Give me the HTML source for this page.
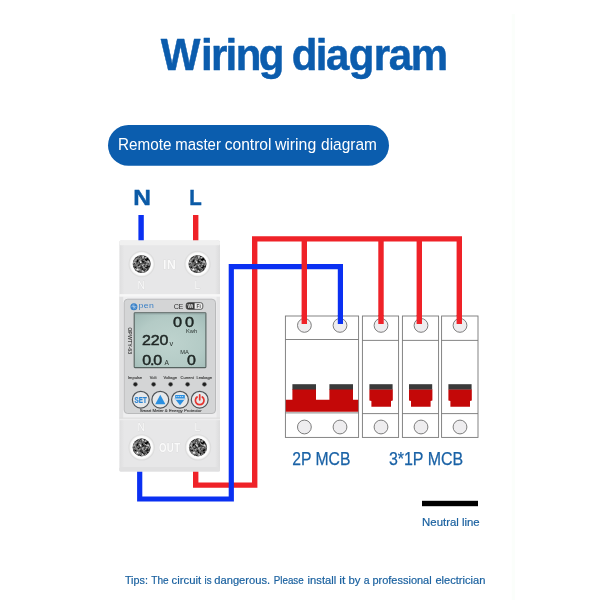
<!DOCTYPE html>
<html lang="en">
<head>
<meta charset="utf-8">
<title>Wiring diagram</title>
<style>
  html,body{margin:0;padding:0;background:#fff;}
  body{width:600px;height:600px;overflow:hidden;position:relative;font-family:"Liberation Sans",sans-serif;}
  svg{will-change:transform;position:absolute;left:0;top:0;display:block;}
  text{font-family:"Liberation Sans",sans-serif;}
  .emb{fill:#fafafa;font-weight:700;stroke:#d6d6d7;stroke-width:0.7px;paint-order:stroke;}
  .tiny{fill:#3a3a3a;}
  .lcd{fill:#1f2725;font-weight:400;stroke:#1f2725;stroke-width:0.5px;}
</style>
</head>
<body>
<svg width="600" height="600" viewBox="0 0 600 600">
  <defs>
    <linearGradient id="bodyG" x1="0" x2="1" y1="0" y2="0">
      <stop offset="0" stop-color="#dededf"/>
      <stop offset="0.05" stop-color="#e7e7e8"/>
      <stop offset="0.95" stop-color="#e7e7e8"/>
      <stop offset="1" stop-color="#dcdcdd"/>
    </linearGradient>
    <radialGradient id="lcdG" cx="0.5" cy="0.55" r="0.75">
      <stop offset="0" stop-color="#bed3ce"/>
      <stop offset="0.6" stop-color="#b4cbc6"/>
      <stop offset="1" stop-color="#9fb9b5"/>
    </radialGradient>
    <radialGradient id="ringG" cx="0.5" cy="0.5" r="0.5">
      <stop offset="0.7" stop-color="#ffffff"/>
      <stop offset="0.88" stop-color="#fbfbfb"/>
      <stop offset="1" stop-color="#e6e6e6"/>
    </radialGradient>
    <filter id="noise" x="-10%" y="-10%" width="120%" height="120%" color-interpolation-filters="sRGB">
      <feTurbulence type="fractalNoise" baseFrequency="0.400 0.400" numOctaves="2" seed="11" result="t"/>
      <feColorMatrix in="t" type="matrix" values="0 1.7 0 0 -0.46  0 1.7 0 0 -0.46  0 1.7 0 0 -0.46  0 0 0 0 1" result="g"/>
      <feGaussianBlur in="g" stdDeviation="0.600" result="gb"/>
      <feComposite in="gb" in2="SourceGraphic" operator="in"/>
    </filter>
  </defs>

  <!-- faint guide line -->
  <rect x="511.800" y="14" width="3" height="586" fill="#fbfefb"/>

  <!-- title -->
  <text id="title" transform="translate(160.698 69.600) scale(0.955 1)" dx="0.00 0.99 -1.58 -2.11 -1.37 -2.74 0.00 -4.55 -1.97 -1.44 -0.48 -0.75 -1.59 -1.27" font-size="44" font-weight="700" fill="#0b5cad" stroke="#0b5cad" stroke-width="0.5" stroke-linejoin="round">Wiring diagram</text>

  <!-- pill -->
  <rect x="108" y="125" width="281" height="40.800" rx="20.400" fill="#0b5dae"/>
  <text id="pilltxt" y="150.100" font-size="16.300" fill="#ffffff"><tspan x="118.0" textLength="53.4" lengthAdjust="spacingAndGlyphs">Remote</tspan> <tspan x="175.2" textLength="45.7" lengthAdjust="spacingAndGlyphs">master</tspan> <tspan x="224.700" textLength="46.800" lengthAdjust="spacingAndGlyphs">control</tspan> <tspan x="274.900" textLength="41.300" lengthAdjust="spacingAndGlyphs">wiring</tspan> <tspan x="321.1" textLength="55.8" lengthAdjust="spacingAndGlyphs">diagram</tspan></text>

  <!-- N / L labels -->
  <text id="lblN" transform="translate(142.050 204.500) scale(1.100 1)" text-anchor="middle" font-size="22.200" font-weight="700" fill="#0b5aa6" stroke="#0b5aa6" stroke-width="0.450">N</text>
  <text id="lblL" transform="translate(195.500 204.500) scale(0.920 1)" text-anchor="middle" font-size="22.200" font-weight="700" fill="#0b5aa6" stroke="#0b5aa6" stroke-width="0.450">L</text>

  <!-- wires -->
  <g fill="none" stroke-linejoin="miter">
    <path d="M195.700 215 V242" stroke="#ef2228" stroke-width="5.400"/>
    <path d="M195.700 470 V485.100 H254.700 V238.900 H459.300 V324" stroke="#ef2228" stroke-width="5.400"/>
    <path d="M141.100 215 V242" stroke="#0a30f2" stroke-width="5.400"/>
    <path d="M139.700 470 V499 H231.300 V266.700 H340.400 V324" stroke="#0a30f2" stroke-width="5.200"/>
    <path d="M304.300 238.900 V324 M381 238.900 V324 M419.300 238.900 V324" stroke="#ef2228" stroke-width="5.400"/>
  </g>

  <!-- device -->
  <g id="device">
    <rect x="119.400" y="240.600" width="100.600" height="231" rx="1.500" fill="url(#bodyG)"/>
    <rect x="119.400" y="240.600" width="100.600" height="4.600" rx="1.500" fill="#f0f0f0"/>
    <rect x="119.400" y="467" width="100.600" height="4.600" rx="1.500" fill="#e0e0e1"/>
    <!-- mid section -->
    <rect x="119.400" y="294.400" width="100.600" height="123.800" fill="#efeff0"/>
    <rect x="119.400" y="296.500" width="3.800" height="121.700" fill="#e1e1e2"/>
    <rect x="216.600" y="296.500" width="3.400" height="121.700" fill="#e6e6e7"/>
    <rect x="119.400" y="294.200" width="100.600" height="2.300" fill="#f7f7f7"/>
    <rect x="119.400" y="417.600" width="100.600" height="1.200" fill="#dcdcdd"/>
    <rect x="119.400" y="418.800" width="100.600" height="1.400" fill="#ededee"/>
    <!-- terminals top -->
    <g transform="translate(141.700 264)"><circle r="13.200" fill="#dcdcdc"/> <circle r="12.300" fill="url(#ringG)"/> <circle r="9.100" fill="#8b8b8b"/> <circle r="8.800" fill="#5a5a5a"/> <circle r="8.600" fill="#5a5a5a" filter="url(#noise)"/></g>
    <g transform="translate(197.500 264)"><circle r="13.200" fill="#dcdcdc"/> <circle r="12.300" fill="url(#ringG)"/> <circle r="9.100" fill="#8b8b8b"/> <circle r="8.800" fill="#5a5a5a"/> <circle r="8.600" fill="#5a5a5a" filter="url(#noise)"/></g>
    <text class="emb" transform="translate(169.600 268.900) scale(0.900 1)" text-anchor="middle" font-size="13.500" style="letter-spacing:0.6px">IN</text>
    <text class="emb" x="141.300" y="288.600" text-anchor="middle" font-size="10.400" style="font-weight:400">N</text>
    <text class="emb" x="197.300" y="288.600" text-anchor="middle" font-size="10.400" style="font-weight:400">L</text>
    <!-- terminals bottom -->
    <g transform="translate(141.600 447.400)"><circle r="13.200" fill="#dcdcdc"/> <circle r="12.300" fill="url(#ringG)"/> <circle r="9.100" fill="#8b8b8b"/> <circle r="8.800" fill="#5a5a5a"/> <circle r="8.600" fill="#5a5a5a" filter="url(#noise)"/></g>
    <g transform="translate(198 447.400)"><circle r="13.200" fill="#dcdcdc"/> <circle r="12.300" fill="url(#ringG)"/> <circle r="9.100" fill="#8b8b8b"/> <circle r="8.800" fill="#5a5a5a"/> <circle r="8.600" fill="#5a5a5a" filter="url(#noise)"/></g>
    <text class="emb" transform="translate(169.700 452.300) scale(0.720 1)" text-anchor="middle" font-size="13.500" style="letter-spacing:0.4px">OUT</text>
    <text class="emb" x="141.300" y="430.500" text-anchor="middle" font-size="10.400" style="font-weight:400">N</text>
    <text class="emb" x="197.300" y="430.500" text-anchor="middle" font-size="10.400" style="font-weight:400">L</text>

    <!-- front label panel -->
    <rect x="124.200" y="299.200" width="91.300" height="114.300" rx="3.500" fill="#d4d5d6" stroke="#b4b5b7" stroke-width="0.900"/>
    <!-- logo -->
    <circle cx="133.900" cy="306.700" r="3.500" fill="#3a82c8"/>
    <path d="M131.400 306.700 h5 M133.900 304.200 v5 M132.200 305 l3.400 3.400" stroke="#b9d3ec" stroke-width="0.700"/>
    <text id="pen" transform="translate(138.400 308.100) scale(1.120 1)" font-size="7.800" fill="#3b80c6" style="letter-spacing:0.35px">pen</text>
    <text id="ce" transform="translate(173.800 309) scale(0.900 1)" font-size="8" fill="#333" style="letter-spacing:-0.6px">CE</text>
    <rect x="186.200" y="302.700" width="16.600" height="6.600" rx="2.200" fill="#f1f1f1" stroke="#3a3a3a" stroke-width="0.800"/>
    <path d="M188.400 302.700 H194.600 V309.300 H188.400 A2.200 2.200 0 0 1 186.200 307.100 V304.900 A2.200 2.200 0 0 1 188.400 302.700 Z" fill="#3a3a3a"/>
    <text x="190.500" y="307.800" text-anchor="middle" font-size="4.800" font-weight="700" fill="#e8e8e8">Wi</text>
    <text x="198.600" y="307.800" text-anchor="middle" font-size="4.800" font-weight="700" fill="#444">Fi</text>
    <!-- LCD -->
    <rect x="134.200" y="312.700" width="71.700" height="54.900" rx="0.800" fill="url(#lcdG)" stroke="#55625f" stroke-width="1.100"/>
    <rect x="134.700" y="313.200" width="70.700" height="1.200" fill="#8fa39f" opacity="0.700"/>
    <g class="lcd" font-size="15.400">
      <text transform="translate(173.100 327.200) scale(1.060 1)" style="letter-spacing:2.6px">00</text>
      <text transform="translate(142 345.400) scale(1.040 1)" style="letter-spacing:-0.1px">220</text>
      <text transform="translate(142.200 365) scale(1.040 1)" style="letter-spacing:-1.1px">0.0</text>
      <text transform="translate(186.900 365) scale(1.040 1)">0</text>
    </g>
    <g fill="#2a3330">
      <text x="186" y="332.800" font-size="5.400" textLength="11.200" lengthAdjust="spacingAndGlyphs">Kwh</text>
      <text x="169.500" y="345.500" font-size="7.400">v</text>
      <text x="164.500" y="365" font-size="6.600">A</text>
      <text x="180.200" y="353.800" font-size="5.200" textLength="8.600" lengthAdjust="spacingAndGlyphs">MA</text>
    </g>
    <text transform="translate(127.500 327.200) rotate(90)" font-size="4.800" font-weight="700" fill="#4a4a4a" textLength="27" lengthAdjust="spacingAndGlyphs">OPWTY-63</text>
    <!-- indicator labels -->
    <g class="tiny" font-size="4" text-anchor="middle" stroke="#3a3a3a" stroke-width="0.120">
      <text x="135" y="379">Impulse</text>
      <text x="153.200" y="379">Volt</text>
      <text x="170.200" y="379">Voltage</text>
      <text x="187.200" y="379">Current</text>
      <text x="204.200" y="379">Leakage</text>
    </g>
    <g fill="#1f1f1f" stroke="#8f8f8f" stroke-width="0.500">
      <circle cx="135.400" cy="384.300" r="2.100"/>
      <circle cx="153.600" cy="384.300" r="2.100"/>
      <circle cx="170.600" cy="384.300" r="2.100"/>
      <circle cx="187.600" cy="384.300" r="2.100"/>
      <circle cx="204.400" cy="384.300" r="2.100"/>
    </g>
    <!-- buttons -->
    <g fill="#e6e8ea" stroke="#4f5357" stroke-width="1.200">
      <circle cx="140.800" cy="399.700" r="8.400"/>
      <circle cx="160.300" cy="399.700" r="8.400"/>
      <circle cx="180" cy="399.700" r="8.400"/>
      <circle cx="199.700" cy="399.700" r="8.400"/>
    </g>
    <text x="140.700" y="402.700" text-anchor="middle" font-size="8.200" font-weight="700" fill="#2b84d4" stroke="#2b84d4" stroke-width="0.200" textLength="12.200" lengthAdjust="spacingAndGlyphs">SET</text>
    <path d="M160.300 394.700 L165.400 404.200 H155.200 Z" fill="#2a8fe0"/>
    <rect x="175.200" y="395" width="9.600" height="3.200" fill="#2a8fe0"/>
    <path d="M176.200 396.600 H183.800" stroke="#d6e6f5" stroke-width="0.900" stroke-dasharray="1.300 0.600"/>
    <path d="M174.600 398.900 H185.400" stroke="#2a8fe0" stroke-width="0.600"/>
    <path d="M175.800 399.900 H184.200 L180 405.200 Z" fill="#2a8fe0"/>
    <path d="M197.100 397 A4.300 4.300 0 1 0 202.300 397" fill="none" stroke="#e6352f" stroke-width="1.700" stroke-linecap="round"/>
    <path d="M199.700 394.800 V399.800" stroke="#e6352f" stroke-width="1.700" stroke-linecap="round"/>
    <text class="tiny" x="170.700" y="411.700" text-anchor="middle" font-size="4.400" stroke="#3a3a3a" stroke-width="0.120" textLength="62" lengthAdjust="spacingAndGlyphs">Smart Meter &amp; Energy Protector</text>
  </g>

  <!-- MCBs -->
  <g id="mcb">
    <g fill="#ffffff" stroke="#777777" stroke-width="0.900">
      <rect x="285.400" y="316" width="73.200" height="121.400"/>
      <rect x="362.400" y="316" width="36.200" height="121.400"/>
      <rect x="402.400" y="316" width="36.200" height="121.400"/>
      <rect x="441.600" y="316" width="36.400" height="121.400"/>
      <path d="M285.400 339.500 H358.600 M285.400 412.900 H358.600" fill="none"/>
      <path d="M362.400 340.400 H398.600 M362.400 413.600 H398.600" fill="none"/>
      <path d="M402.400 340.400 H438.600 M402.400 413.600 H438.600" fill="none"/>
      <path d="M441.600 340.400 H478 M441.600 413.600 H478" fill="none"/>
    </g>
    <g transform="translate(304.400 325.400)"><circle r="6.900" fill="#eeedef" stroke="#6f6f6f" stroke-width="0.900"/></g>
    <g transform="translate(340 325.400)"><circle r="6.900" fill="#eeedef" stroke="#6f6f6f" stroke-width="0.900"/></g>
    <g transform="translate(381 325.400)"><circle r="6.900" fill="#eeedef" stroke="#6f6f6f" stroke-width="0.900"/></g>
    <g transform="translate(421 325.400)"><circle r="6.900" fill="#eeedef" stroke="#6f6f6f" stroke-width="0.900"/></g>
    <g transform="translate(460 325.400)"><circle r="6.900" fill="#eeedef" stroke="#6f6f6f" stroke-width="0.900"/></g>
    <g transform="translate(304.400 427)"><circle r="6.900" fill="#eeedef" stroke="#6f6f6f" stroke-width="0.900"/></g>
    <g transform="translate(340 427)"><circle r="6.900" fill="#eeedef" stroke="#6f6f6f" stroke-width="0.900"/></g>
    <g transform="translate(381 427)"><circle r="6.900" fill="#eeedef" stroke="#6f6f6f" stroke-width="0.900"/></g>
    <g transform="translate(421 427)"><circle r="6.900" fill="#eeedef" stroke="#6f6f6f" stroke-width="0.900"/></g>
    <g transform="translate(460 427)"><circle r="6.900" fill="#eeedef" stroke="#6f6f6f" stroke-width="0.900"/></g>
    <!-- 2P handle -->
    <path d="M285.800 399.800 H292.400 V389 H316 V399.800 H329.400 V389 H353 V399.800 H358.200 V411.700 H285.800 Z" fill="#c40808"/>
    <rect x="292.400" y="384.200" width="23.600" height="5.300" fill="#3a3a3a"/>
    <rect x="329.400" y="384.200" width="23.600" height="5.300" fill="#3a3a3a"/>
    <g transform="translate(369.400 384)"><path d="M0 5.300 H23.400 V16.400 L21.600 17 V22.800 H2 V17 L0 16.400 Z" fill="#c40808"/> <rect x="0" y="0.200" width="23.200" height="5.300" fill="#3a3a3a"/></g>
    <g transform="translate(409 384)"><path d="M0 5.300 H23.400 V16.400 L21.600 17 V22.800 H2 V17 L0 16.400 Z" fill="#c40808"/> <rect x="0" y="0.200" width="23.200" height="5.300" fill="#3a3a3a"/></g>
    <g transform="translate(448.400 384)"><path d="M0 5.300 H23.400 V16.400 L21.600 17 V22.800 H2 V17 L0 16.400 Z" fill="#c40808"/> <rect x="0" y="0.200" width="23.200" height="5.300" fill="#3a3a3a"/></g>
  </g>

  <!-- wire ends over poles -->
  <g fill="none">
    <path d="M340.400 315 V324" stroke="#0a30f2" stroke-width="5.200"/>
    <path d="M304.300 315 V324 M381 315 V324 M419.300 315 V324 M459.300 315 V324" stroke="#ef2228" stroke-width="5.400"/>
  </g>

  <!-- labels -->
  <text id="l2p" x="292.200" y="465.400" font-size="18.300" fill="#1a62a6" stroke="#1a62a6" stroke-width="0.250" textLength="58.200" lengthAdjust="spacingAndGlyphs">2P MCB</text>
  <text id="l3p" x="388.900" y="465.400" font-size="18.300" fill="#1a62a6" stroke="#1a62a6" stroke-width="0.250" textLength="74.200" lengthAdjust="spacingAndGlyphs">3*1P MCB</text>

  <rect x="422" y="500.800" width="56" height="5.400" fill="#000"/>
  <text id="neutral" x="422.100" y="525.900" font-size="11.600" fill="#19609f" stroke="#19609f" stroke-width="0.200" textLength="57.600" lengthAdjust="spacingAndGlyphs">Neutral line</text>

  <text id="tips" y="584" font-size="11.800" fill="#19609f" stroke="#19609f" stroke-width="0.200"><tspan x="124.9" textLength="23.0" lengthAdjust="spacingAndGlyphs">Tips:</tspan> <tspan x="151.3" textLength="17.4" lengthAdjust="spacingAndGlyphs">The</tspan> <tspan x="171.6" textLength="29.6" lengthAdjust="spacingAndGlyphs">circuit</tspan> <tspan x="204.6" textLength="7.1" lengthAdjust="spacingAndGlyphs">is</tspan> <tspan x="214.3" textLength="55.8" lengthAdjust="spacingAndGlyphs">dangerous.</tspan> <tspan x="273.8" textLength="29.9" lengthAdjust="spacingAndGlyphs">Please</tspan> <tspan x="307.6" textLength="28.6" lengthAdjust="spacingAndGlyphs">install</tspan> <tspan x="339.3" textLength="6.1" lengthAdjust="spacingAndGlyphs">it</tspan> <tspan x="348.4" textLength="12.0" lengthAdjust="spacingAndGlyphs">by</tspan> <tspan x="363.8" textLength="5.8" lengthAdjust="spacingAndGlyphs">a</tspan> <tspan x="372.4" textLength="59.3" lengthAdjust="spacingAndGlyphs">professional</tspan> <tspan x="435.4" textLength="50.0" lengthAdjust="spacingAndGlyphs">electrician</tspan></text>
</svg>
</body>
</html>
